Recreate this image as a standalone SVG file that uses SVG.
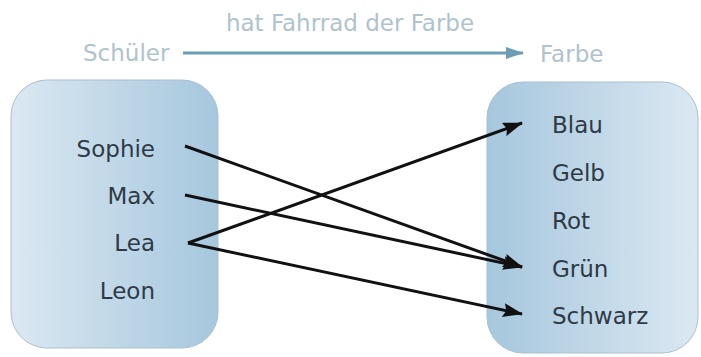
<svg xmlns="http://www.w3.org/2000/svg" width="701" height="357" viewBox="0 0 701 357">
<defs>
<linearGradient id="gl" x1="0" y1="0" x2="1" y2="0">
<stop offset="0" stop-color="#dbe8f2"/>
<stop offset="1" stop-color="#a6c7dd"/>
</linearGradient>
<linearGradient id="gr" x1="0" y1="0" x2="1" y2="0">
<stop offset="0" stop-color="#a6c7dd"/>
<stop offset="1" stop-color="#dbe8f2"/>
</linearGradient>
<marker id="ah" markerWidth="20" markerHeight="14" refX="19" refY="7" orient="auto" markerUnits="userSpaceOnUse" viewBox="0 0 20 14">
<path d="M0,0 L20,7 L0,14 L3,7 z" fill="#111"/>
</marker>
<marker id="ahb" markerWidth="18" markerHeight="12" refX="17" refY="6" orient="auto" markerUnits="userSpaceOnUse" viewBox="0 0 18 12">
<path d="M0,0 L18,6 L0,12 z" fill="#6b9db5"/>
</marker>
</defs>
<style>
.t{font-family:"DejaVu Sans",sans-serif;font-size:23px;fill:#2e3a46}
.h{font-family:"DejaVu Sans",sans-serif;font-size:23px;fill:#aec3ce}
.c{stroke:#111;stroke-width:3;fill:none}
.box{stroke:#a9c0cf;stroke-width:1}
</style>
<rect width="701" height="357" fill="#fff"/>
<g id="header">
<text class="h" x="83" y="61">Schüler</text>
<text class="h" x="350" y="31" text-anchor="middle">hat Fahrrad der Farbe</text>
<text class="h" x="540" y="62">Farbe</text>
<line x1="183" y1="53" x2="523" y2="53" stroke="#6b9db5" stroke-width="3" marker-end="url(#ahb)"/>
</g>
<g id="schueler">
<rect class="box" x="11" y="80" width="207" height="268" rx="36" fill="url(#gl)"/>
<text class="t" x="155" y="157" text-anchor="end">Sophie</text>
<text class="t" x="155" y="204" text-anchor="end">Max</text>
<text class="t" x="155" y="251" text-anchor="end">Lea</text>
<text class="t" x="155" y="299" text-anchor="end">Leon</text>
</g>
<g id="farbe">
<rect class="box" x="487" y="82" width="211" height="271" rx="36" fill="url(#gr)"/>
<text class="t" x="552" y="133">Blau</text>
<text class="t" x="552" y="181">Gelb</text>
<text class="t" x="552" y="229">Rot</text>
<text class="t" x="552" y="277">Grün</text>
<text class="t" x="552" y="324">Schwarz</text>
</g>
<g id="connectors">
<line class="c" x1="185" y1="146" x2="522" y2="267" marker-end="url(#ah)"/>
<line class="c" x1="185" y1="195" x2="522" y2="267" marker-end="url(#ah)"/>
<line class="c" x1="188" y1="243" x2="522" y2="123" marker-end="url(#ah)"/>
<line class="c" x1="188" y1="243" x2="522" y2="314" marker-end="url(#ah)"/>
</g>
</svg>
